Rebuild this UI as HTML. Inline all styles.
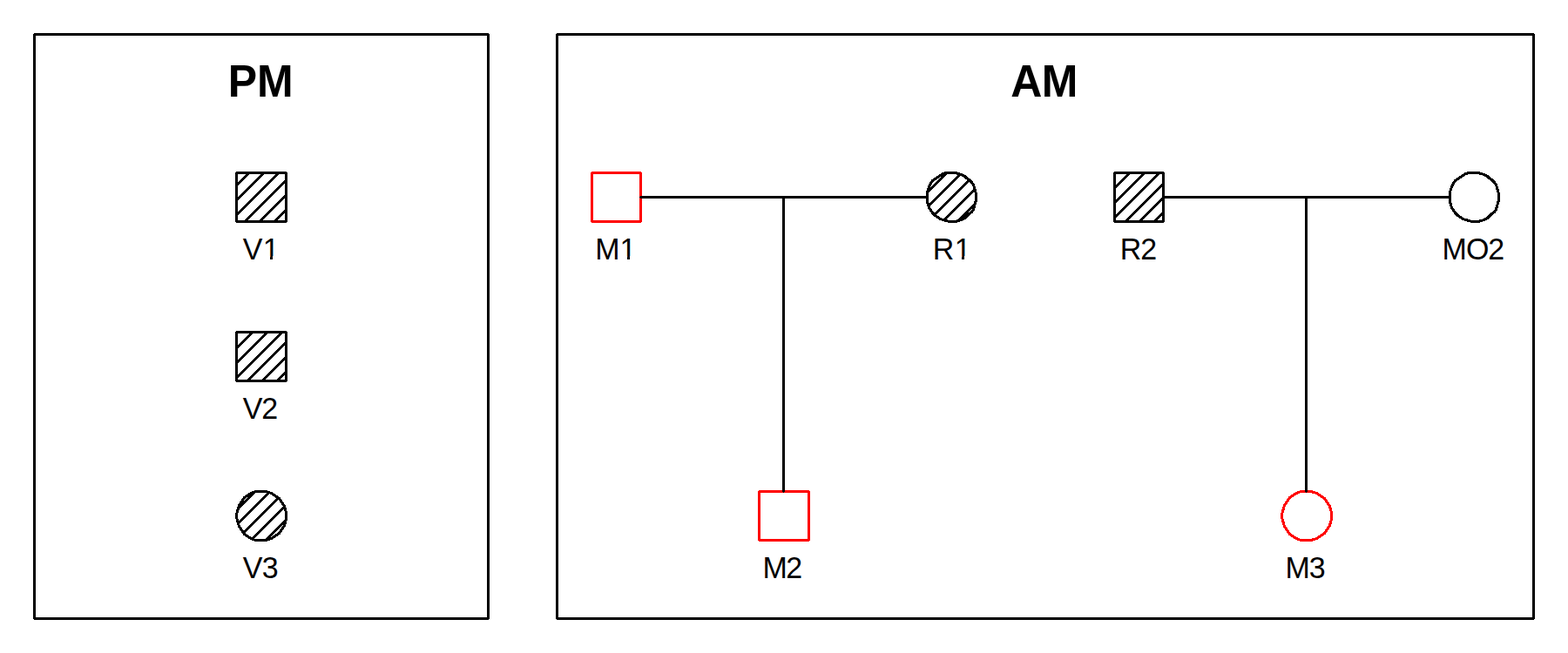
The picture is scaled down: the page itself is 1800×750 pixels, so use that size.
<!DOCTYPE html>
<html lang="en">
<head>
<meta charset="utf-8">
<title>PM / AM pedigrees</title>
<style>
html,body{margin:0;padding:0;background:#fff;}
body{width:1800px;height:750px;overflow:hidden;}
svg{display:block;}
text{font-family:"Liberation Sans",sans-serif;fill:#000;}
.t{font-size:50px;font-weight:bold;}
.l{font-size:33.33px;}
.h{fill:none;stroke:#000;stroke-width:2.8;stroke-linecap:butt;}
</style>
</head>
<body>
<svg width="1800" height="750" viewBox="0 0 1800 750" shape-rendering="crispEdges">
<rect x="0" y="0" width="1800" height="750" fill="#fff"/>
<!-- panel frames -->
<path d="M39 38H561V39H562V711H561V712H39V711H38V39H39ZM41 41H559V709H41Z" fill="#000" fill-rule="evenodd"/>
<path d="M639 38H1761V39H1762V711H1761V712H639V711H638V39H639ZM641 41H1759V709H641Z" fill="#000" fill-rule="evenodd"/>
<!-- V1 -->
<line class="h" x1="271.5" y1="213.0" x2="286.0" y2="198.5"/>
<line class="h" x1="271.5" y1="230.0" x2="303.0" y2="198.5"/>
<line class="h" x1="271.5" y1="247.0" x2="320.0" y2="198.5"/>
<line class="h" x1="281.0" y1="254.5" x2="328.5" y2="207.0"/>
<line class="h" x1="298.0" y1="254.5" x2="328.5" y2="224.0"/>
<line class="h" x1="315.0" y1="254.5" x2="328.5" y2="241.0"/>
<path d="M271 197H329V198H330V255H329V256H271V255H270V198H271ZM273 200H327V253H273Z" fill="#000" fill-rule="evenodd"/>
<!-- V2 -->
<line class="h" x1="271.5" y1="383.0" x2="273.0" y2="381.5"/>
<line class="h" x1="271.5" y1="400.0" x2="290.0" y2="381.5"/>
<line class="h" x1="271.5" y1="417.0" x2="307.0" y2="381.5"/>
<line class="h" x1="271.5" y1="434.0" x2="324.0" y2="381.5"/>
<line class="h" x1="284.0" y1="437.5" x2="328.5" y2="393.0"/>
<line class="h" x1="301.0" y1="437.5" x2="328.5" y2="410.0"/>
<line class="h" x1="318.0" y1="437.5" x2="328.5" y2="427.0"/>
<path d="M271 380H329V381H330V438H329V439H271V438H270V381H271ZM273 383H327V436H273Z" fill="#000" fill-rule="evenodd"/>
<!-- V3 -->
<line class="h" x1="272.87" y1="584.63" x2="292.08" y2="565.42"/>
<line class="h" x1="273.17" y1="601.33" x2="308.78" y2="565.72"/>
<line class="h" x1="279.54" y1="611.96" x2="319.41" y2="572.09"/>
<line class="h" x1="289.72" y1="618.78" x2="326.23" y2="582.27"/>
<line class="h" x1="305.32" y1="620.18" x2="327.63" y2="597.87"/>
<path d="M292 563h15v1h-15zM289 564h21v1h-21zM287 565h26v1h-26zM285 566h7v1h-7zM306 566h8v1h-8zM284 567h6v1h-6zM310 567h6v1h-6zM282 568h6v1h-6zM312 568h5v1h-5zM281 569h5v1h-5zM313 569h6v1h-6zM279 570h6v1h-6zM315 570h5v1h-5zM279 571h4v1h-4zM316 571h6v1h-6zM278 572h4v1h-4zM318 572h4v1h-4zM277 573h4v1h-4zM319 573h4v1h-4zM277 574h3v1h-3zM320 574h4v1h-4zM276 575h4v1h-4zM321 575h3v1h-3zM275 576h4v1h-4zM321 576h4v1h-4zM275 577h3v1h-3zM322 577h4v1h-4zM274 578h4v1h-4zM323 578h3v1h-3zM273 579h4v1h-4zM323 579h4v1h-4zM273 580h3v1h-3zM324 580h4v1h-4zM273 581h3v1h-3zM325 581h3v1h-3zM272 582h3v1h-3zM325 582h3v1h-3zM272 583h3v1h-3zM325 583h4v1h-4zM272 584h3v1h-3zM326 584h3v1h-3zM271 585h4v1h-4zM326 585h3v1h-3zM271 586h3v1h-3zM326 586h3v1h-3zM271 587h3v1h-3zM327 587h3v1h-3zM271 588h3v1h-3zM327 588h3v1h-3zM270 589h3v1h-3zM327 589h3v1h-3zM270 590h3v1h-3zM327 590h3v1h-3zM270 591h3v1h-3zM327 591h3v1h-3zM270 592h3v1h-3zM327 592h3v1h-3zM270 593h3v1h-3zM327 593h3v1h-3zM270 594h3v1h-3zM327 594h3v1h-3zM270 595h3v1h-3zM327 595h3v1h-3zM271 596h3v1h-3zM327 596h3v1h-3zM271 597h3v1h-3zM327 597h3v1h-3zM271 598h3v1h-3zM326 598h3v1h-3zM271 599h4v1h-4zM326 599h3v1h-3zM272 600h3v1h-3zM326 600h3v1h-3zM272 601h3v1h-3zM325 601h4v1h-4zM272 602h3v1h-3zM325 602h3v1h-3zM273 603h3v1h-3zM325 603h3v1h-3zM273 604h3v1h-3zM324 604h4v1h-4zM273 605h4v1h-4zM323 605h4v1h-4zM274 606h4v1h-4zM323 606h3v1h-3zM275 607h3v1h-3zM322 607h4v1h-4zM275 608h4v1h-4zM321 608h4v1h-4zM276 609h4v1h-4zM321 609h3v1h-3zM277 610h3v1h-3zM320 610h4v1h-4zM277 611h4v1h-4zM319 611h4v1h-4zM278 612h4v1h-4zM318 612h4v1h-4zM279 613h4v1h-4zM316 613h6v1h-6zM279 614h6v1h-6zM315 614h5v1h-5zM281 615h5v1h-5zM313 615h6v1h-6zM282 616h6v1h-6zM312 616h5v1h-5zM284 617h6v1h-6zM310 617h6v1h-6zM285 618h7v1h-7zM306 618h8v1h-8zM287 619h26v1h-26zM289 620h21v1h-21zM292 621h15v1h-15z" fill="#000"/>
<!-- M1 -->
<path d="M679 197H736V198H737V255H736V256H679V255H678V198H679ZM681 200H734V253H681Z" fill="#f00" fill-rule="evenodd"/>
<!-- R1 -->
<line class="h" x1="1064.65" y1="220.85" x2="1086.87" y2="198.63"/>
<line class="h" x1="1066.02" y1="236.48" x2="1102.50" y2="200.00"/>
<line class="h" x1="1072.82" y1="246.68" x2="1112.70" y2="206.80"/>
<line class="h" x1="1083.44" y1="253.06" x2="1119.08" y2="217.42"/>
<line class="h" x1="1100.09" y1="253.41" x2="1119.43" y2="234.07"/>
<path d="M1084 197h15v1h-15zM1081 198h21v1h-21zM1080 199h25v1h-25zM1078 200h7v1h-7zM1098 200h9v1h-9zM1077 201h5v1h-5zM1102 201h7v1h-7zM1075 202h6v1h-6zM1104 202h6v1h-6zM1074 203h5v1h-5zM1106 203h5v1h-5zM1072 204h6v1h-6zM1107 204h5v1h-5zM1071 205h5v1h-5zM1108 205h6v1h-6zM1069 206h6v1h-6zM1110 206h5v1h-5zM1069 207h4v1h-4zM1111 207h5v1h-5zM1068 208h4v1h-4zM1112 208h5v1h-5zM1067 209h4v1h-4zM1113 209h4v1h-4zM1067 210h3v1h-3zM1114 210h4v1h-4zM1066 211h4v1h-4zM1115 211h4v1h-4zM1066 212h3v1h-3zM1116 212h3v1h-3zM1065 213h4v1h-4zM1116 213h3v1h-3zM1065 214h3v1h-3zM1117 214h3v1h-3zM1065 215h3v1h-3zM1117 215h3v1h-3zM1064 216h3v1h-3zM1117 216h3v1h-3zM1064 217h3v1h-3zM1117 217h4v1h-4zM1064 218h3v1h-3zM1118 218h3v1h-3zM1063 219h3v1h-3zM1118 219h3v1h-3zM1063 220h3v1h-3zM1118 220h3v1h-3zM1063 221h3v1h-3zM1119 221h3v1h-3zM1063 222h3v1h-3zM1119 222h3v1h-3zM1063 223h3v1h-3zM1119 223h3v1h-3zM1063 224h3v1h-3zM1119 224h3v1h-3zM1063 225h3v1h-3zM1119 225h3v1h-3zM1063 226h3v1h-3zM1119 226h3v1h-3zM1063 227h3v1h-3zM1119 227h3v1h-3zM1063 228h3v1h-3zM1119 228h3v1h-3zM1063 229h3v1h-3zM1119 229h3v1h-3zM1063 230h3v1h-3zM1119 230h3v1h-3zM1063 231h3v1h-3zM1118 231h4v1h-4zM1063 232h3v1h-3zM1118 232h3v1h-3zM1063 233h4v1h-4zM1118 233h3v1h-3zM1064 234h3v1h-3zM1118 234h3v1h-3zM1064 235h3v1h-3zM1117 235h3v1h-3zM1064 236h3v1h-3zM1117 236h3v1h-3zM1065 237h3v1h-3zM1117 237h3v1h-3zM1065 238h3v1h-3zM1116 238h4v1h-4zM1065 239h4v1h-4zM1116 239h3v1h-3zM1066 240h4v1h-4zM1116 240h3v1h-3zM1067 241h3v1h-3zM1115 241h4v1h-4zM1067 242h4v1h-4zM1114 242h4v1h-4zM1068 243h4v1h-4zM1113 243h4v1h-4zM1069 244h4v1h-4zM1111 244h6v1h-6zM1069 245h5v1h-5zM1110 245h5v1h-5zM1070 246h5v1h-5zM1109 246h5v1h-5zM1071 247h5v1h-5zM1108 247h5v1h-5zM1072 248h6v1h-6zM1107 248h5v1h-5zM1074 249h5v1h-5zM1106 249h5v1h-5zM1075 250h6v1h-6zM1104 250h6v1h-6zM1077 251h8v1h-8zM1102 251h7v1h-7zM1078 252h10v1h-10zM1098 252h9v1h-9zM1081 253h24v1h-24zM1084 254h18v1h-18zM1088 255h11v1h-11z" fill="#000"/>
<!-- R2 -->
<line class="h" x1="1279.5" y1="216.0" x2="1297.0" y2="198.5"/>
<line class="h" x1="1279.5" y1="233.0" x2="1314.0" y2="198.5"/>
<line class="h" x1="1279.5" y1="250.0" x2="1331.0" y2="198.5"/>
<line class="h" x1="1292.0" y1="254.5" x2="1335.5" y2="211.0"/>
<line class="h" x1="1308.0" y1="254.5" x2="1335.5" y2="227.0"/>
<line class="h" x1="1325.0" y1="254.5" x2="1335.5" y2="244.0"/>
<path d="M1279 197H1336V198H1337V255H1336V256H1279V255H1278V198H1279ZM1281 200H1334V253H1281Z" fill="#000" fill-rule="evenodd"/>
<!-- MO2 -->
<path d="M1684 197h15v1h-15zM1681 198h21v1h-21zM1680 199h25v1h-25zM1678 200h7v1h-7zM1698 200h9v1h-9zM1677 201h5v1h-5zM1702 201h7v1h-7zM1675 202h6v1h-6zM1704 202h6v1h-6zM1674 203h5v1h-5zM1706 203h5v1h-5zM1672 204h6v1h-6zM1707 204h5v1h-5zM1671 205h5v1h-5zM1708 205h6v1h-6zM1669 206h6v1h-6zM1710 206h5v1h-5zM1669 207h4v1h-4zM1711 207h5v1h-5zM1668 208h4v1h-4zM1712 208h5v1h-5zM1667 209h4v1h-4zM1713 209h4v1h-4zM1667 210h3v1h-3zM1714 210h4v1h-4zM1666 211h4v1h-4zM1715 211h4v1h-4zM1666 212h3v1h-3zM1716 212h3v1h-3zM1665 213h4v1h-4zM1716 213h3v1h-3zM1665 214h3v1h-3zM1717 214h3v1h-3zM1665 215h3v1h-3zM1717 215h3v1h-3zM1664 216h3v1h-3zM1717 216h3v1h-3zM1664 217h3v1h-3zM1717 217h4v1h-4zM1664 218h3v1h-3zM1718 218h3v1h-3zM1663 219h3v1h-3zM1718 219h3v1h-3zM1663 220h3v1h-3zM1718 220h3v1h-3zM1663 221h3v1h-3zM1719 221h3v1h-3zM1663 222h3v1h-3zM1719 222h3v1h-3zM1663 223h3v1h-3zM1719 223h3v1h-3zM1663 224h3v1h-3zM1719 224h3v1h-3zM1663 225h3v1h-3zM1719 225h3v1h-3zM1663 226h3v1h-3zM1719 226h3v1h-3zM1663 227h3v1h-3zM1719 227h3v1h-3zM1663 228h3v1h-3zM1719 228h3v1h-3zM1663 229h3v1h-3zM1719 229h3v1h-3zM1663 230h3v1h-3zM1719 230h3v1h-3zM1663 231h3v1h-3zM1718 231h4v1h-4zM1663 232h3v1h-3zM1718 232h3v1h-3zM1663 233h4v1h-4zM1718 233h3v1h-3zM1664 234h3v1h-3zM1718 234h3v1h-3zM1664 235h3v1h-3zM1717 235h3v1h-3zM1664 236h3v1h-3zM1717 236h3v1h-3zM1665 237h3v1h-3zM1717 237h3v1h-3zM1665 238h3v1h-3zM1716 238h4v1h-4zM1665 239h4v1h-4zM1716 239h3v1h-3zM1666 240h4v1h-4zM1716 240h3v1h-3zM1667 241h3v1h-3zM1715 241h4v1h-4zM1667 242h4v1h-4zM1714 242h4v1h-4zM1668 243h4v1h-4zM1713 243h4v1h-4zM1669 244h4v1h-4zM1711 244h6v1h-6zM1669 245h5v1h-5zM1710 245h5v1h-5zM1670 246h5v1h-5zM1709 246h5v1h-5zM1671 247h5v1h-5zM1708 247h5v1h-5zM1672 248h6v1h-6zM1707 248h5v1h-5zM1674 249h5v1h-5zM1706 249h5v1h-5zM1675 250h6v1h-6zM1704 250h6v1h-6zM1677 251h8v1h-8zM1702 251h7v1h-7zM1678 252h10v1h-10zM1698 252h9v1h-9zM1681 253h24v1h-24zM1684 254h18v1h-18zM1688 255h11v1h-11z" fill="#000"/>
<!-- M2 -->
<path d="M871 563H929V564H930V621H929V622H871V621H870V564H871ZM873 566H927V619H873Z" fill="#f00" fill-rule="evenodd"/>
<!-- M3 -->
<path d="M1492 563h15v1h-15zM1489 564h21v1h-21zM1487 565h26v1h-26zM1485 566h7v1h-7zM1506 566h8v1h-8zM1484 567h6v1h-6zM1510 567h6v1h-6zM1482 568h6v1h-6zM1512 568h5v1h-5zM1481 569h5v1h-5zM1513 569h6v1h-6zM1479 570h6v1h-6zM1515 570h5v1h-5zM1479 571h4v1h-4zM1516 571h6v1h-6zM1478 572h4v1h-4zM1518 572h4v1h-4zM1477 573h4v1h-4zM1519 573h4v1h-4zM1477 574h3v1h-3zM1520 574h4v1h-4zM1476 575h4v1h-4zM1521 575h3v1h-3zM1475 576h4v1h-4zM1521 576h4v1h-4zM1475 577h3v1h-3zM1522 577h4v1h-4zM1474 578h4v1h-4zM1523 578h3v1h-3zM1473 579h4v1h-4zM1523 579h4v1h-4zM1473 580h3v1h-3zM1524 580h4v1h-4zM1473 581h3v1h-3zM1525 581h3v1h-3zM1472 582h3v1h-3zM1525 582h3v1h-3zM1472 583h3v1h-3zM1525 583h4v1h-4zM1472 584h3v1h-3zM1526 584h3v1h-3zM1471 585h4v1h-4zM1526 585h3v1h-3zM1471 586h3v1h-3zM1526 586h3v1h-3zM1471 587h3v1h-3zM1527 587h3v1h-3zM1471 588h3v1h-3zM1527 588h3v1h-3zM1470 589h3v1h-3zM1527 589h3v1h-3zM1470 590h3v1h-3zM1527 590h3v1h-3zM1470 591h3v1h-3zM1527 591h3v1h-3zM1470 592h3v1h-3zM1527 592h3v1h-3zM1470 593h3v1h-3zM1527 593h3v1h-3zM1470 594h3v1h-3zM1527 594h3v1h-3zM1470 595h3v1h-3zM1527 595h3v1h-3zM1471 596h3v1h-3zM1527 596h3v1h-3zM1471 597h3v1h-3zM1527 597h3v1h-3zM1471 598h3v1h-3zM1526 598h3v1h-3zM1471 599h4v1h-4zM1526 599h3v1h-3zM1472 600h3v1h-3zM1526 600h3v1h-3zM1472 601h3v1h-3zM1525 601h4v1h-4zM1472 602h3v1h-3zM1525 602h3v1h-3zM1473 603h3v1h-3zM1525 603h3v1h-3zM1473 604h3v1h-3zM1524 604h4v1h-4zM1473 605h4v1h-4zM1523 605h4v1h-4zM1474 606h4v1h-4zM1523 606h3v1h-3zM1475 607h3v1h-3zM1522 607h4v1h-4zM1475 608h4v1h-4zM1521 608h4v1h-4zM1476 609h4v1h-4zM1521 609h3v1h-3zM1477 610h3v1h-3zM1520 610h4v1h-4zM1477 611h4v1h-4zM1519 611h4v1h-4zM1478 612h4v1h-4zM1518 612h4v1h-4zM1479 613h4v1h-4zM1516 613h6v1h-6zM1479 614h6v1h-6zM1515 614h5v1h-5zM1481 615h5v1h-5zM1513 615h6v1h-6zM1482 616h6v1h-6zM1512 616h5v1h-5zM1484 617h6v1h-6zM1510 617h6v1h-6zM1485 618h7v1h-7zM1506 618h8v1h-8zM1487 619h26v1h-26zM1489 620h21v1h-21zM1492 621h15v1h-15z" fill="#f00"/>
<!-- l1 -->
<path d="M735 225H1065V226H1066V227H1065V228H735V227H734V226H735Z" fill="#000"/>
<!-- l2 -->
<path d="M899 225H900V226H901V565H900V566H899V565H898V226H899Z" fill="#000"/>
<!-- l3 -->
<path d="M1335 225H1665V226H1666V227H1665V228H1335V227H1334V226H1335Z" fill="#000"/>
<!-- l4 -->
<path d="M1499 225H1500V226H1501V565H1500V566H1499V565H1498V226H1499Z" fill="#000"/>
<!-- labels -->
<text class="t" transform="translate(0,111) scale(1.0,1.0405)" x="261.71 294.97" y="0">PM</text>
<text class="t" transform="translate(0,111) scale(1.0,1.0405)" x="1160.33 1195.67" y="0">AM</text>
<text class="l" transform="translate(0,298) scale(1.02,1.0405)" x="273.30 295.83" y="0">V1</text>
<rect x="303.01" y="294.39" width="7.29" height="4.96" fill="#fff"/>
<rect x="313.30" y="294.39" width="7.02" height="4.96" fill="#fff"/>
<text class="l" transform="translate(0,481) scale(1.02,1.0405)" x="273.30 294.36" y="0">V2</text>
<text class="l" transform="translate(0,664) scale(1.02,1.0405)" x="273.30 294.75" y="0">V3</text>
<text class="l" transform="translate(0,298) scale(1.02,1.0405)" x="669.94 697.60" y="0">M1</text>
<rect x="712.81" y="294.39" width="7.29" height="4.96" fill="#fff"/>
<rect x="723.10" y="294.39" width="7.02" height="4.96" fill="#fff"/>
<text class="l" transform="translate(0,298) scale(1.02,1.0405)" x="1049.82 1074.26" y="0">R1</text>
<rect x="1097.01" y="294.39" width="7.29" height="4.96" fill="#fff"/>
<rect x="1107.30" y="294.39" width="7.02" height="4.96" fill="#fff"/>
<text class="l" transform="translate(0,298) scale(1.02,1.0405)" x="1260.61 1283.57" y="0">R2</text>
<text class="l" transform="translate(0,298) scale(1.02,1.0405)" x="1622.98 1649.89 1674.85" y="0">MO2</text>
<text class="l" transform="translate(0,664) scale(1.02,1.0405)" x="858.27 884.46" y="0">M2</text>
<text class="l" transform="translate(0,664) scale(1.02,1.0405)" x="1446.51 1473.38" y="0">M3</text>
</svg>
</body>
</html>
